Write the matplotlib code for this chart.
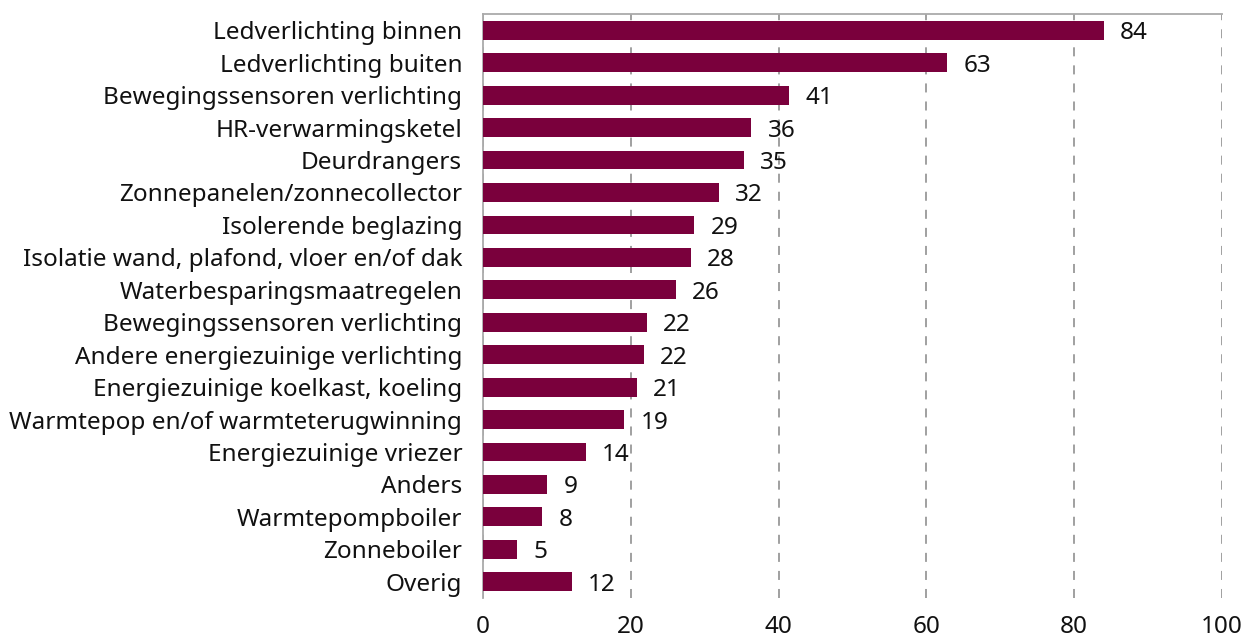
import matplotlib
matplotlib.use("Agg")
import matplotlib.pyplot as plt

# Categories top to bottom, bar lengths and printed labels
categories = [
    "Ledverlichting binnen",
    "Ledverlichting buiten",
    "Bewegingssensoren verlichting",
    "HR-verwarmingsketel",
    "Deurdrangers",
    "Zonnepanelen/zonnecollector",
    "Isolerende beglazing",
    "Isolatie wand, plafond, vloer en/of dak",
    "Waterbesparingsmaatregelen",
    "Bewegingssensoren verlichting",
    "Andere energiezuinige verlichting",
    "Energiezuinige koelkast, koeling",
    "Warmtepop en/of warmteterugwinning",
    "Energiezuinige vriezer",
    "Anders",
    "Warmtepompboiler",
    "Zonneboiler",
    "Overig",
]
values = [84.0, 62.8, 41.4, 36.3, 35.3, 31.9, 28.6, 28.1, 26.1,
          22.2, 21.8, 20.8, 19.1, 13.9, 8.7, 8.0, 4.6, 12.0]
labels = [84, 63, 41, 36, 35, 32, 29, 28, 26, 22, 22, 21, 19, 14, 9, 8, 5, 12]
xticks = [0, 20, 40, 60, 80, 100]

plt.rcParams["font.family"] = ["Noto Sans", "DejaVu Sans"]
FS = 17.5

fig = plt.figure(figsize=(12.47, 6.39), dpi=100)
ax = fig.add_axes([0.3873, 0.0642, 0.5927, 0.9138])

y = list(range(len(categories)))
ax.barh(y, values, height=0.58, color="#7a003c", zorder=3)

for yi, v, lab in zip(y, values, labels):
    ax.text(v + 2.2, yi, str(lab), va="center_baseline", ha="left",
            fontsize=FS, color="#111111")

ax.set_xlim(0, 100)
ax.set_ylim(len(categories) - 0.5, -0.5)
ax.set_xticks(xticks)
ax.set_yticks(y)
ax.set_yticklabels(categories, va="center_baseline")
ax.tick_params(axis="both", length=0, labelsize=FS, colors="#111111")
ax.tick_params(axis="x", pad=12)
ax.tick_params(axis="y", pad=15)

ax.xaxis.grid(True, linestyle=(0, (5, 5)), color="#999999", linewidth=1.3, zorder=0)
for s in ["top", "left"]:
    ax.spines[s].set_color("#aaaaaa")
    ax.spines[s].set_linewidth(1.3)
ax.spines["right"].set_visible(False)
ax.spines["bottom"].set_visible(False)

fig.savefig("out.png", dpi=100)
plt.close(fig)
